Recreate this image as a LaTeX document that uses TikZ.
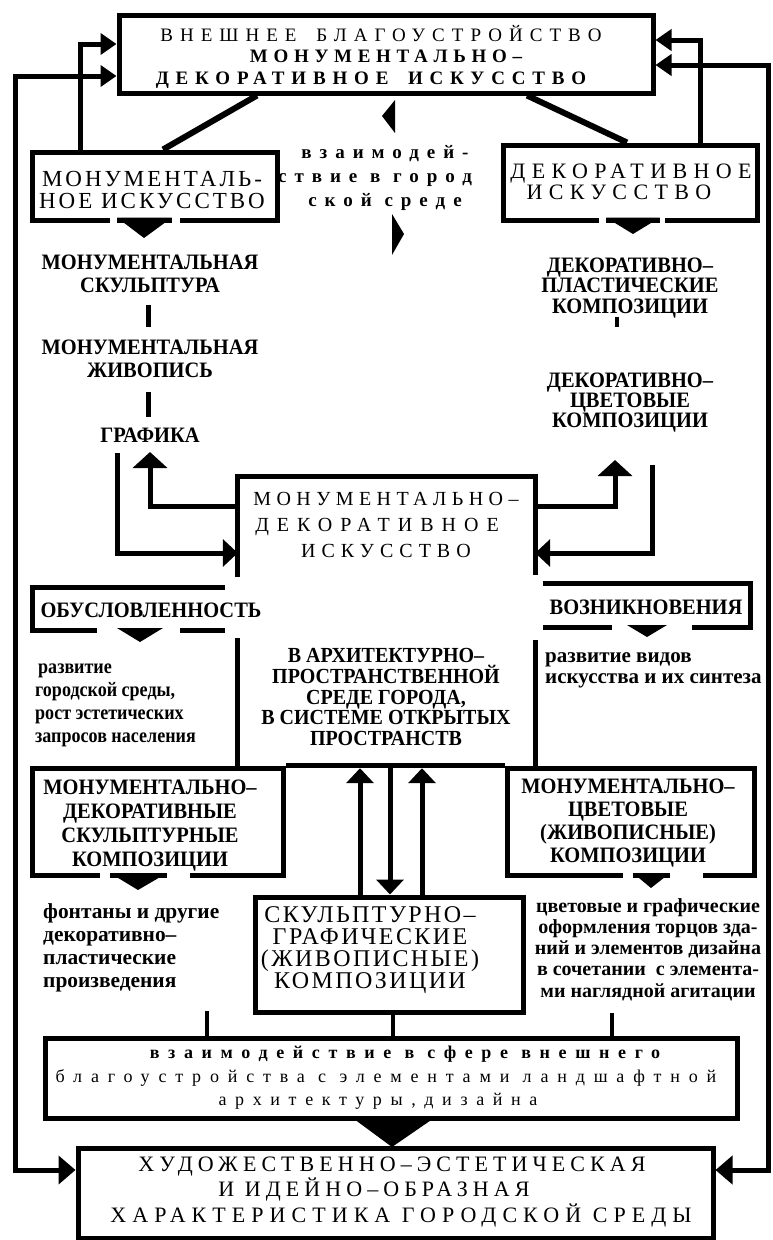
\documentclass[tikz,border=0pt]{standalone}
\usepackage{fontspec}
\setmainfont{Liberation Serif}
\usetikzlibrary{arrows.meta}
\newcommand\LS[1]{\addfontfeatures{LetterSpace=#1}}
\newcommand\fs[2]{\fontsize{#1}{#2}\selectfont}
\newcommand\cb[2]{\fontsize{#1}{#2}\selectfont\bfseries\addfontfeatures{FakeStretch=0.93}}
\newcommand\lsh[1]{\hspace*{#1}\mbox{}}
\begin{document}
\begin{tikzpicture}[x=1pt,y=-1pt,
  ln/.style={line width=5pt},
  thin/.style={line width=4pt},
  frame/.style={draw,line width=5pt,inner sep=0pt},
  gap/.style={fill=white},
  txt/.style={align=center,inner sep=0pt},
  capb/.style={txt,font=\cb{22}{23}},
  lowb/.style={txt,align=left,font=\fs{20}{23}\bfseries},
  hdA/.style={-{Triangle[length=16pt,width=21pt]}},
  hdB/.style={-{Triangle[length=16pt,width=34pt]}},
  hdC/.style={-{Triangle[length=15pt,width=27pt]}},
  hdD/.style={{Triangle[length=16pt,width=21pt]}-{Triangle[length=17pt,width=28pt]}}
]
\useasboundingbox (0,0) rectangle (773,1240);

% ---------- top box
\node[frame,minimum width=534pt,minimum height=78pt] (top) at (386,54) {};
\node[txt,font=\fs{19}{21.5}] (toptxt) at (386,56.5)
  {{\LS{37}ВНЕШНЕЕ\hspace{8pt} БЛАГОУСТРОЙСТВО}\lsh{10pt}\\
   {\bfseries\LS{30}МОНУМЕНТАЛЬНО–}\\
   {\bfseries\LS{36}ДЕКОРАТИВНОЕ\hspace{8pt} ИСКУССТВО}\lsh{30pt}};

% ---------- second row boxes
\node[frame,minimum width=245pt,minimum height=68pt] (mi) at (154.5,186) {};
\node[txt,font=\fs{23}{20.5}\LS{13}] (mitxt1) at (152,179) {МОНУМЕНТАЛЬ-};
\node[txt,font=\fs{23}{20.5}\LS{13}] (mitxt2) at (152,201) {НОЕ ИСКУССТВО};
\fill[gap] (110,216) rectangle (117,224);
\fill[gap] (172,216) rectangle (180,224);
\fill (117,217.5) -- (172,217.5) -- (144,238) -- cycle;

\node[frame,minimum width=254pt,minimum height=75pt] (dk) at (630,182.5) {};
\node[txt,font=\fs{22}{21}\LS{29}] (dktxt) at (631,181.5) {ДЕКОРАТИВНОЕ\\ИСКУССТВО\lsh{24pt}};
\fill[gap] (599,216) rectangle (606,224);
\fill[gap] (660,216) rectangle (665,224);
\fill (606,217.5) -- (660,217.5) -- (633,234) -- cycle;

\node[txt,font=\fs{19}{24}\LS{42}\bfseries] (inter) at (385,178) {взаимодей-\\ствие в город\lsh{20pt}\\ской среде};
\fill (382,116) -- (395,100) -- (395,133) -- cycle;
\fill (404,234) -- (392,214) -- (392,255) -- cycle;

% diagonals
\draw[line width=6pt] (top.south -| 257,0) -- (mi.north -| 163,0);
\draw[line width=6pt] (top.south -| 527,0) -- (dk.north -| 627,0);

% feedback to top box
\draw[ln,hdA] (mi.north -| 80,0) |- (top.west |- 0,44);
\draw[ln,hdA] (dk.north -| 700,0) |- (top.east |- 0,40);

% ---------- columns
\node[capb] (ms) at (150,273.5) {МОНУМЕНТАЛЬНАЯ\\СКУЛЬПТУРА};
\node[capb] (mz) at (150,358.5) {МОНУМЕНТАЛЬНАЯ\\ЖИВОПИСЬ};
\node[capb] (gr) at (150,435) {ГРАФИКА};
\draw[ln] ([shift={(-2,31.5)}]ms.center) -- ([shift={(-2,-31.5)}]mz.center);
\draw[ln] ([shift={(-2,33.5)}]mz.center) -- ([shift={(-2,-18)}]gr.center);

\node[capb,font=\cb{22}{20.5}] (dp) at (630,288) {ДЕКОРАТИВНО–\\ПЛАСТИЧЕСКИЕ\\КОМПОЗИЦИИ};
\node[capb,font=\cb{22}{20}] (dc) at (630,403) {ДЕКОРАТИВНО–\\ЦВЕТОВЫЕ\\КОМПОЗИЦИИ};
\draw[thin] ([shift={(-13,29)}]dp.center) -- ([shift={(-13,39)}]dp.center);

% ---------- central box
\node[inner sep=0pt,minimum width=297pt,minimum height=291pt] (cbox) at (386.5,622.5) {};
\node[txt,font=\fs{20}{26}] (ctxt) at (386,525)
  {{\LS{27}МОНУМЕНТАЛЬНО–}\\{\LS{40}ДЕКОРАТИВНОЕ}\lsh{18pt}\\{\LS{30}ИСКУССТВО}};
\draw[ln] (cbox.west |- 0,577) -- (cbox.north west) -- (cbox.north east) -- (cbox.east |- 0,575);
\draw[ln] (cbox.west |- 0,638) -- (cbox.south west);
\draw[ln] (cbox.east |- 0,640) -- (cbox.south east);
\node[capb,font=\cb{21.5}{20.75}] (arch) at (386,697)
  {В АРХИТЕКТУРНО–\\ПРОСТРАНСТВЕННОЙ\\СРЕДЕ ГОРОДА,\\В СИСТЕМЕ ОТКРЫТЫХ\\ПРОСТРАНСТВ};

\coordinate (grtip) at ([shift={(0,17)}]gr.center);
\coordinate (lfree) at (117,453);
\coordinate (dctip) at (615,460);
\coordinate (rfree) at (652,465);
\draw[ln,hdB] (cbox.west |- 0,506) -| (grtip);
\draw[ln,hdC] (lfree) |- (cbox.west |- 0,553);
\draw[ln,hdB] (cbox.east |- 0,506) -| (dctip);
\draw[ln,hdC] (rfree) |- (cbox.east |- 0,553);

% brackets
\node[capb] (ob) at (151,610) {ОБУСЛОВЛЕННОСТЬ};
\draw[ln] (225,587) -- (32,587) -- (32,630) -- (97,630);
\draw[ln] (180,630) -- (225,630);
\fill (117,628) -- (163,628) -- (140,642) -- cycle;

\node[capb] (vz) at (646,607) {ВОЗНИКНОВЕНИЯ};
\draw[ln] (543,583) -- (750,583) -- (750,627) -- (692,627);
\draw[ln] (612,627) -- (543,627);
\fill (627,625) -- (667,625) -- (647,637) -- cycle;

\node[lowb,anchor=west,font=\fs{20.5}{23}\bfseries\addfontfeatures{FakeStretch=0.88}] (rv1) at (35,705.5)
  {\hspace*{3pt}развитие\\городской среды,\\рост эстетических\\запросов населения};
\node[lowb,anchor=west,font=\fs{21}{21}\bfseries] (rv2) at (545,670) {развитие видов\\искусства и их синтеза};

% ---------- lower boxes
\node[frame,minimum width=251pt,minimum height=107pt] (lb) at (157.5,821.5) {};
\node[capb,font=\cb{22}{24}] (lbtxt) at (150,826) {МОНУМЕНТАЛЬНО–\\ДЕКОРАТИВНЫЕ\\СКУЛЬПТУРНЫЕ\\КОМПОЗИЦИИ};
\fill[gap] (100,871) rectangle (110,879);
\fill[gap] (167,871) rectangle (190,879);
\fill (110,873) -- (167,873) -- (138,890) -- cycle;

\node[frame,minimum width=247pt,minimum height=107pt] (rb) at (630.5,821.5) {};
\node[capb,font=\cb{22}{23}] (rbtxt) at (628,823) {МОНУМЕНТАЛЬНО–\\ЦВЕТОВЫЕ\\(ЖИВОПИСНЫЕ)\\КОМПОЗИЦИИ};
\fill[gap] (623,871) rectangle (633,879);
\fill[gap] (670,871) rectangle (703,879);
\fill (633,873) -- (670,873) -- (651,888) -- cycle;

\draw[ln] (lb.north east) -- (rb.north west);

\node[frame,minimum width=268pt,minimum height=115pt] (sk) at (389,954.5) {};
\node[txt,font=\fs{24}{22}\LS{10}] (sktxt) at (370,950) {СКУЛЬПТУРНО–\\ГРАФИЧЕСКИЕ\\(ЖИВОПИСНЫЕ)\\КОМПОЗИЦИИ};

\draw[ln,hdC] (sk.north -| 360,0) -- (cbox.south -| 360,0);
\draw[ln,hdC] (cbox.south -| 390,0) -- (sk.north -| 390,0);
\draw[ln,hdC] (sk.north -| 422,0) -- (cbox.south -| 422,0);

\node[lowb,anchor=west,font=\fs{21.4}{23}\bfseries] (ft) at (43,947.5) {фонтаны и другие\\декоративно–\\пластические\\произведения};
\node[txt,font=\fs{20}{21.25}\bfseries] (ct) at (648,949.5) {цветовые и графические\\оформления торцов зда-\\ний и элементов дизайна\\в сочетании\ \ с элемента-\\ми наглядной агитации};

% ---------- bottom
\node[frame,minimum width=692pt,minimum height=80pt] (bm) at (391,1078) {};
\node[txt,font=\fs{18}{23.5}\LS{48}] (bmtxt) at (395,1078)
  {\hspace*{20pt}{\bfseries взаимодействие в сфере внешнего}\\{\LS{49}благоустройства с элементами ландшафтной}\lsh{18pt}\\архитектуры,дизайна\lsh{34pt}};
\draw[thin] (bm.north -| 207,0) -- ++(0,-25);
\draw[thin] (sk.south -| 393,0) -- (bm.north -| 393,0);
\draw[thin] (bm.north -| 612,0) -- ++(0,-23);
\fill (350,1116) -- (437,1116) -- (392,1147) -- cycle;

\node[frame,minimum width=635pt,minimum height=90pt] (bot) at (395.5,1193) {};
\node[txt,font=\fs{22}{25.5}\LS{23}] (bottxt) at (392,1192)
  {ХУДОЖЕСТВЕННО–ЭСТЕТИЧЕСКАЯ\\И ИДЕЙНО–ОБРАЗНАЯ\lsh{36pt}\\\hspace*{18pt}{\LS{27.5}ХАРАКТЕРИСТИКА ГОРОДСКОЙ СРЕДЫ}};

% outer loops
\coordinate (lcorner) at (15,1170);
\coordinate (rcorner) at (768,1170);
\draw[ln,hdD] (top.west |- 0,76) -| (lcorner) -- (bot.west |- lcorner);
\draw[ln,hdD] (top.east |- 0,65) -| (rcorner) -- (bot.east |- rcorner);
\end{tikzpicture}
\end{document}
